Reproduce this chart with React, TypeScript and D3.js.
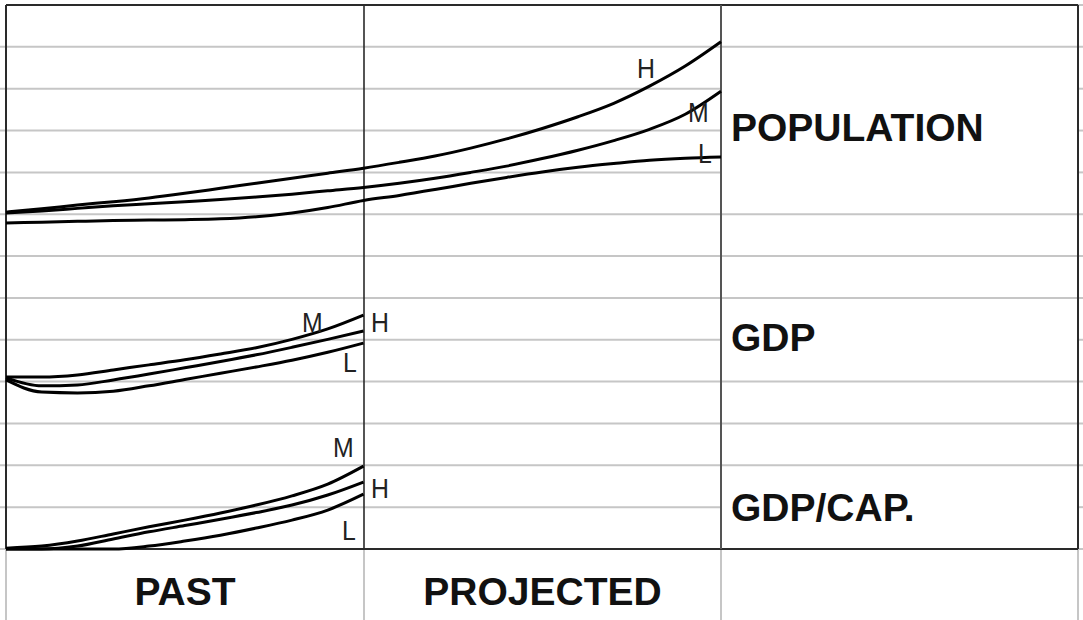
import React from "react";
import * as d3 from "d3";

// time index: 0..10 = past, 10..20 = projected
const pastT = d3.range(0, 11);
const allT = d3.range(0, 21);

// values in an abstract index (0..130 spans the full grid height)
const popH = [80.5, 81.3, 82.2, 83.0, 83.9, 85.0, 86.2, 87.4, 88.6, 89.8, 91.0, 92.4, 93.9, 95.8, 98.0, 100.5, 103.3, 106.5, 110.6, 115.4, 121.2];
const popM = [80.3, 80.8, 81.4, 82.0, 82.5, 83.0, 83.5, 84.1, 84.8, 85.6, 86.4, 87.4, 88.6, 90.0, 91.5, 93.3, 95.3, 97.6, 100.3, 103.9, 109.4];
const popL = [77.9, 78.1, 78.3, 78.5, 78.6, 78.7, 78.9, 79.4, 80.3, 81.6, 83.3, 84.5, 85.9, 87.4, 88.8, 90.1, 91.2, 92.1, 92.9, 93.4, 93.7];

const gdpA = [41.1, 41.1, 41.6, 42.8, 44.0, 45.2, 46.6, 48.1, 50.1, 52.6, 55.9];
const gdpB = [40.9, 39.0, 39.2, 40.4, 41.8, 43.3, 44.8, 46.4, 48.2, 50.1, 52.1];
const gdpC = [40.4, 37.5, 37.3, 37.7, 39.0, 40.5, 42.0, 43.5, 45.1, 47.0, 49.2];

const capA = [0.2, 0.7, 1.9, 3.6, 5.3, 6.9, 8.6, 10.5, 12.7, 15.5, 19.8];
const capB = [0.0, 0.0, 0.7, 2.4, 4.1, 5.6, 7.1, 8.7, 10.5, 12.9, 16.0];
const capC = [0.0, 0.0, 0.0, 0.0, 0.7, 1.9, 3.3, 5.0, 6.9, 9.3, 13.1];

// series labels (text, t, value)
const labelTexts = ["H", "M", "L", "M", "H", "L", "M", "H", "L"];
const labelT = [17.65, 19.08, 19.36, 8.28, 10.21, 9.43, 9.15, 10.21, 9.4];
const labelV = [112.6, 102.0, 92.2, 51.9, 51.9, 42.3, 22.0, 12.2, 2.2];

// panel names and their baseline index values
const panelNames = ["POPULATION", "GDP", "GDP/CAP."];
const panelV = [97.5, 47.3, 6.8];
const periodNames = ["PAST", "PROJECTED"];

// grid rows (13 rows); rows whose line is hidden in the right-hand column (merged cells)
const rowCount = 13;
const mergedRows = [2, 3, 4, 8, 12];

const W = 1083;
const H = 620;

export default function App() {
  const left = 6, right = 1078, top = 5, bottom = 549;
  const midX = 364, projX = 721;
  const x = d3.scaleLinear().domain([0, 20]).range([left, projX]);
  const y = d3.scaleLinear().domain([0, 130]).range([bottom, top]);
  const rowY = d3.scaleLinear().domain([0, rowCount]).range([top, bottom]);

  const line = (ts: number[], vs: number[]) =>
    d3.line<number>().x((_, i) => x(ts[i])).y((v) => y(v)).curve(d3.curveMonotoneX)(vs) || "";

  const series: [number[], number[]][] = [
    [allT, popH], [allT, popM], [allT, popL],
    [pastT, gdpA], [pastT, gdpB], [pastT, gdpC],
    [pastT, capA], [pastT, capB], [pastT, capC],
  ];

  const font = "'Liberation Sans', Arial, sans-serif";
  const grid = "#c6c6c6";
  const dark = "#2a2a2a";

  return (
    <svg width={W} height={H} style={{ position: "absolute", left: 0, top: 0, background: "#fff" }}>
      <rect x={0} y={0} width={W} height={H} fill="#fff" />
      {/* horizontal grid lines */}
      {d3.range(1, rowCount).map((r) => (
        <g key={r}>
          <line x1={0} x2={projX} y1={rowY(r)} y2={rowY(r)} stroke={grid} strokeWidth={2} />
          {mergedRows.includes(r) ? (
            <line x1={right} x2={W} y1={rowY(r)} y2={rowY(r)} stroke={grid} strokeWidth={2} />
          ) : (
            <line x1={projX} x2={W} y1={rowY(r)} y2={rowY(r)} stroke={grid} strokeWidth={2} />
          )}
        </g>
      ))}
      <line x1={right} x2={W} y1={top} y2={top} stroke={grid} strokeWidth={2} />
      <line x1={0} x2={left} y1={bottom} y2={bottom} stroke={grid} strokeWidth={2} />
      <line x1={right} x2={W} y1={bottom} y2={bottom} stroke={grid} strokeWidth={2} />
      {/* light vertical lines in the bottom strip */}
      {[left, midX, projX, right].map((vx, i) => (
        <line key={i} x1={vx} x2={vx} y1={bottom} y2={H} stroke={grid} strokeWidth={2} />
      ))}
      {/* dark frame */}
      <line x1={left} x2={right} y1={top} y2={top} stroke={dark} strokeWidth={2} />
      <line x1={left} x2={right} y1={bottom} y2={bottom} stroke={dark} strokeWidth={2} />
      <line x1={left} x2={left} y1={top} y2={bottom} stroke={dark} strokeWidth={2} />
      <line x1={right} x2={right} y1={top} y2={bottom} stroke={dark} strokeWidth={2} />
      <line x1={midX} x2={midX} y1={top} y2={bottom} stroke={dark} strokeWidth={1.6} />
      <line x1={projX} x2={projX} y1={top} y2={bottom} stroke="#555" strokeWidth={2} />

      {/* series */}
      {series.map(([ts, vs], i) => (
        <path key={i} d={line(ts, vs)} fill="none" stroke="#000" strokeWidth={3} />
      ))}

      {/* series labels */}
      {labelTexts.map((t, i) => (
        <text key={i} transform={`translate(${x(labelT[i])},${y(labelV[i])}) scale(0.92,1)`}
          fontFamily={font} fontSize={27} fill="#222">{t}</text>
      ))}

      {/* panel names */}
      {panelNames.map((n, i) => (
        <text key={n} x={projX + 10} y={y(panelV[i])} fontFamily={font} fontSize={39} fontWeight="bold" fill="#111">{n}</text>
      ))}

      {/* period names */}
      {periodNames.map((n, i) => (
        <text key={n} x={i === 0 ? (left + midX) / 2 : (midX + projX) / 2} y={605} textAnchor="middle"
          fontFamily={font} fontSize={39} fontWeight="bold" fill="#111">{n}</text>
      ))}
    </svg>
  );
}
